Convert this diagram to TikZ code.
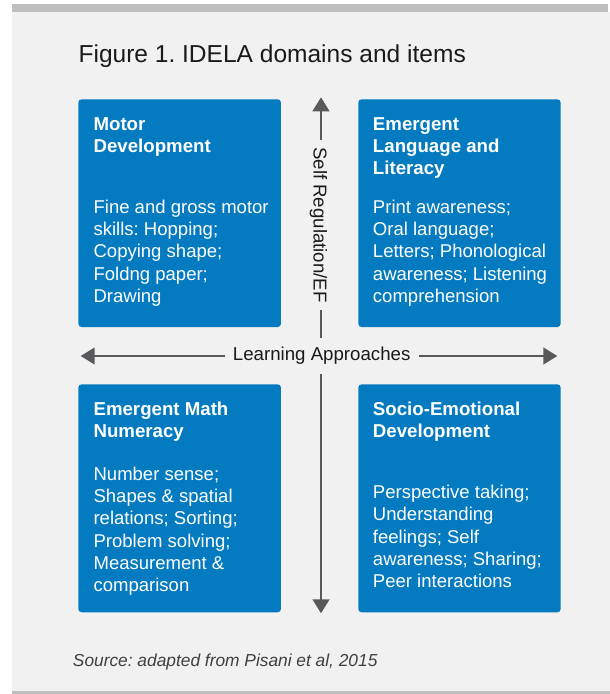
\documentclass[tikz,border=0pt]{standalone}
\usepackage{fontspec}
\setmainfont{Liberation Sans}
\usetikzlibrary{arrows.meta}
\definecolor{panel}{HTML}{F1F1F1}
\definecolor{barcol}{HTML}{BEBEBE}
\definecolor{boxblue}{HTML}{047BC1}
\definecolor{arrowgray}{HTML}{58595B}
\definecolor{ink}{HTML}{1A1A1A}
\definecolor{srcink}{HTML}{404040}
\frenchspacing
\begin{document}
\begin{tikzpicture}[x=0.75pt,y=-0.75pt,
  box/.style={draw=none, fill=boxblue, rounded corners=2.5pt, inner sep=0pt},
  head/.style={anchor=north west, inner sep=0pt, align=left, text=white,
    font=\fontsize{14pt}{16.4pt}\selectfont\bfseries},
  body/.style={anchor=north west, inner sep=0pt, align=left, text=white,
    font=\fontsize{13.9pt}{16.7pt}\selectfont},
  axis/.style={draw=arrowgray, line width=1.7pt},
  tip/.style={-{Triangle[length=10.5pt,width=12.5pt]}},
  axlabel/.style={fill=panel, text=ink, font=\fontsize{14pt}{16pt}\selectfont}
]
\useasboundingbox (0,0) rectangle (610,694);
% background panel
\fill[white] (0,0) rectangle (610,694);
\fill[panel] (12.3,12.3) rectangle (610,690.7);
\fill[barcol] (12.3,4) rectangle (608.3,12.3);
\fill[barcol] (12.3,690.7) rectangle (610,694);

% title
\node[anchor=base west, inner sep=0pt, text=ink, font=\fontsize{18.4pt}{22pt}\selectfont]
  (title) at (78.3,62.3) {Figure 1. IDELA domains and items};

% boxes
\node[box, minimum width=152pt, minimum height=170.8pt] (motor) at (179.65,213.15) {};
\node[box, minimum width=151.8pt, minimum height=170.8pt] (lang) at (459.5,213.15) {};
\node[box, minimum width=152pt, minimum height=171pt] (math) at (179.65,498.3) {};
\node[box, minimum width=151.8pt, minimum height=171pt] (socio) at (459.5,498.3) {};

% box texts
\node[head] (motorh) at (93.3,115.33) {\rule{0pt}{11pt}Motor\\Development};
\node[body] (motorb) at (93.3,198.33) {\rule{0pt}{11pt}Fine and gross motor\\skills: Hopping;\\Copying shape;\\Foldng paper;\\Drawing};

\node[head] (langh) at (372.7,115.33) {\rule{0pt}{11pt}Emergent\\Language and\\Literacy};
\node[body] (langb) at (372.7,198.33) {\rule{0pt}{11pt}Print awareness;\\Oral language;\\Letters; Phonological\\awareness; Listening\\comprehension};

\node[head] (mathh) at (93.3,400.33) {\rule{0pt}{11pt}Emergent Math\\Numeracy};
\node[body] (mathb) at (93.3,465.33) {\rule{0pt}{11pt}Number sense;\\Shapes \& spatial\\relations; Sorting;\\Problem solving;\\Measurement \&\\comparison};

\node[head] (socioh) at (372.7,400.33) {\rule{0pt}{11pt}Socio-Emotional\\Development};
\node[body] (sociob) at (372.7,483.63) {\rule{0pt}{11pt}Perspective taking;\\Understanding\\feelings; Self\\awareness; Sharing;\\Peer interactions};

% axes
\coordinate (vtop) at (321,97.3);
\coordinate (vbot) at (321,613.3);
\coordinate (hleft) at (80.7,356);
\coordinate (hright) at (557.3,356);

\node[axlabel, rotate=-90, inner xsep=5pt, inner ysep=2pt] (selfreg) at (318.5,225) {Self Regulation/EF};
\node[axlabel, inner xsep=6pt, inner ysep=6.5pt] (learn) at (321.7,356) {Learning Approaches};

\draw[axis,tip] (selfreg.west -| vtop) -- (vtop);
\draw[axis] (selfreg.east -| vtop) -- (learn.north -| vtop);
\draw[axis,tip] (learn.south -| vtop) -- (vbot);
\draw[axis,tip] (learn.west) -- (hleft);
\draw[axis,tip] (learn.east) -- (hright);

% source
\node[anchor=base west, inner sep=0pt, text=srcink, font=\fontsize{13pt}{15pt}\selectfont\itshape]
  (source) at (72.7,666) {Source: adapted from Pisani et al, 2015};
\end{tikzpicture}
\end{document}
